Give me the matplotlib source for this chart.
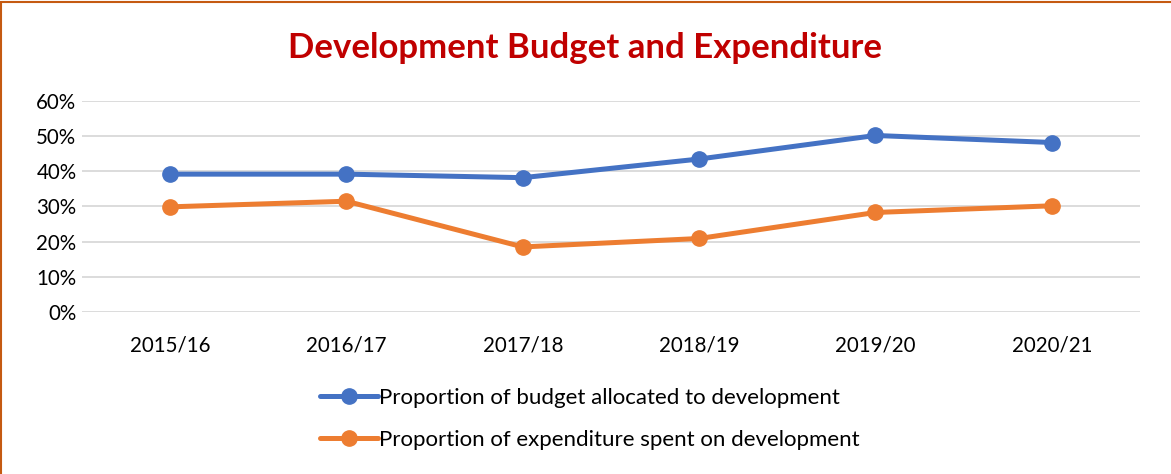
import matplotlib.pyplot as plt
from matplotlib.patches import Rectangle
from matplotlib.ticker import PercentFormatter

plt.rcParams['font.family'] = ['Lato', 'DejaVu Sans']

# data
years = ["2015/16", "2016/17", "2017/18", "2018/19", "2019/20", "2020/21"]
budget_share = [0.392, 0.392, 0.382, 0.435, 0.502, 0.482]
expenditure_share = [0.299, 0.315, 0.185, 0.209, 0.283, 0.302]
labels = ["Proportion of budget allocated to development",
          "Proportion of expenditure spent on development"]

BLUE = "#4472C4"
ORANGE = "#ED7D31"

fig = plt.figure(figsize=(11.71, 4.74), dpi=100)
ax = fig.add_axes([0.070, 0.3418, 0.9035, 0.4451])

x = range(len(years))
ax.plot(x, budget_share, color=BLUE, lw=3.6, marker='o', ms=11,
        label=labels[0], solid_capstyle='round')
ax.plot(x, expenditure_share, color=ORANGE, lw=3.6, marker='o', ms=11,
        label=labels[1], solid_capstyle='round')

ax.set_xlim(-0.5, len(years) - 0.5)
ax.set_ylim(0, 0.6)
ax.set_yticks([0, 0.1, 0.2, 0.3, 0.4, 0.5, 0.6])
ax.yaxis.set_major_formatter(PercentFormatter(1.0, decimals=0))
ax.set_xticks(list(x))
ax.set_xticklabels(years)
ax.grid(axis='y', color='#D9D9D9', lw=1.3)
ax.set_axisbelow(True)
for s in ax.spines.values():
    s.set_visible(False)
ax.tick_params(length=0, labelsize=14.8, colors='#000000')
ax.tick_params(axis='x', pad=17)
ax.tick_params(axis='y', pad=4)

fig.text(0.5, 0.898, "Development Budget and Expenditure", ha='center', va='center',
         fontsize=25, fontweight='bold', color='#C00000')

fig.legend(loc='upper center', bbox_to_anchor=(0.5034, 0.181), ncol=1,
           frameon=False, fontsize=16, handlelength=2.6, handletextpad=0.05,
           labelspacing=0.99, borderaxespad=0, borderpad=0)

# orange chart frame (only top and left edges fall inside the crop)
fig.patches.append(Rectangle((0.001, -0.1), 1.2, 1.096, transform=fig.transFigure,
                             fill=False, edgecolor='#C55A11', lw=1.5))

fig.savefig("out.png", dpi=100, facecolor='white')
